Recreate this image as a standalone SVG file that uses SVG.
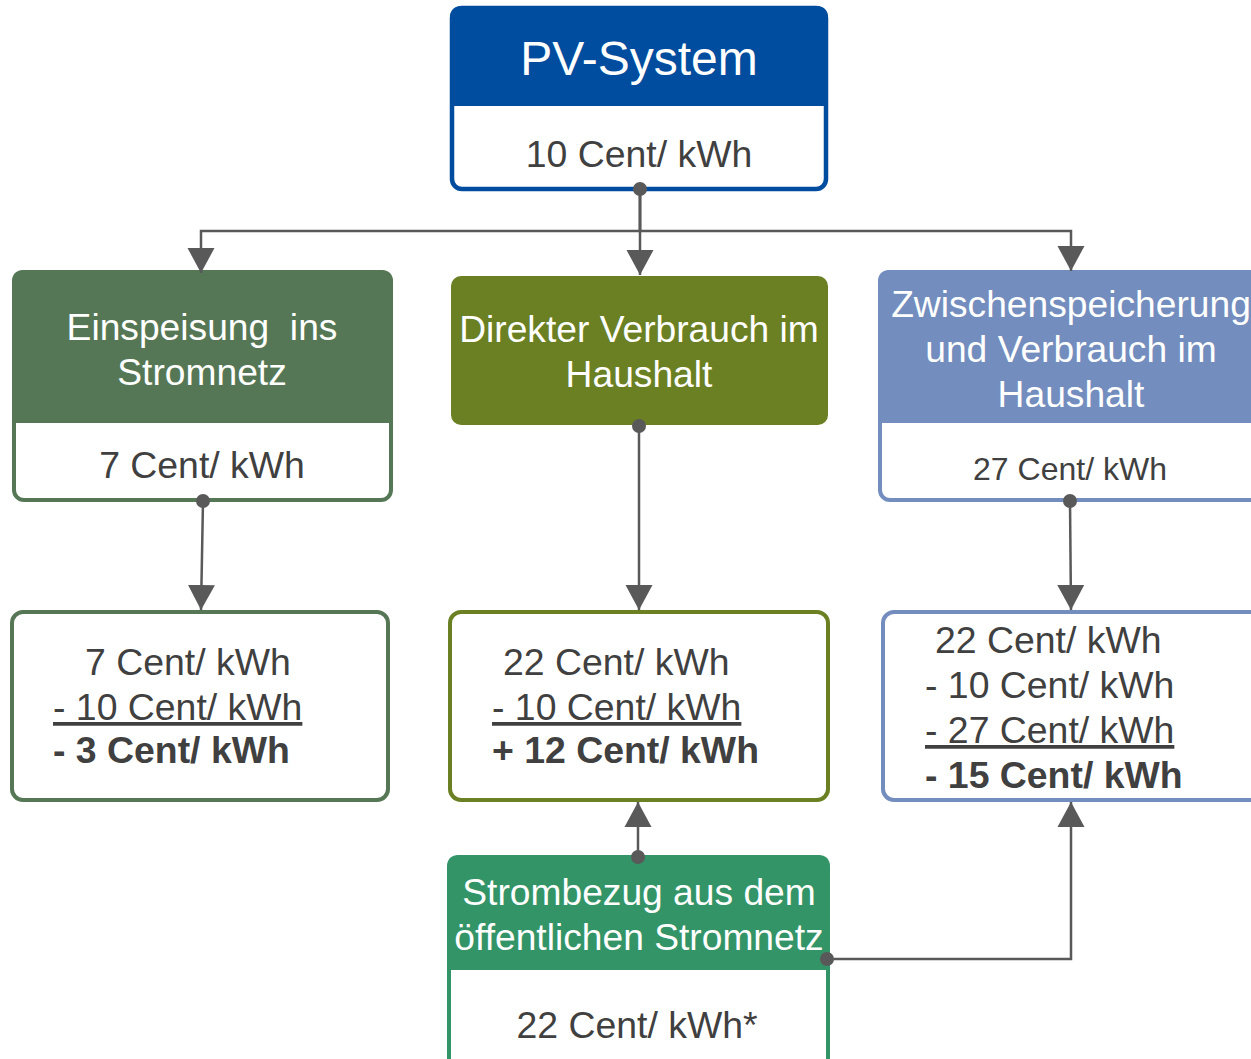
<svg xmlns="http://www.w3.org/2000/svg" width="1251" height="1059" viewBox="0 0 1251 1059">
<style>
text{font-family:"Liberation Sans",Arial,sans-serif;}
.h{fill:#fff;font-size:37.2px;text-anchor:middle;}
.b{fill:#404040;font-size:37.4px;}
.c{text-anchor:middle;}
.bold{font-weight:bold;}
.u{text-decoration:underline;}
.con{fill:none;stroke:#595959;stroke-width:2.5;marker-end:url(#arr);}
.dot{fill:#595959;}
</style>
<defs>
<marker id="arr" markerUnits="userSpaceOnUse" markerWidth="26" markerHeight="28" viewBox="0 0 26 28" refX="25" refY="14" orient="auto"><path d="M0,0.5 L25,14 L0,27.5 Z" fill="#595959"/></marker>
</defs>
<rect width="1251" height="1059" fill="#fff"/>

<g id="pv">
<rect x="452" y="8" width="374" height="181" rx="10" fill="#fff" stroke="#004C9E" stroke-width="4.5"/>
<path d="M450,106 V18 Q450,6 462,6 H816 Q828,6 828,18 V106 Z" fill="#004C9E"/>
<text class="h" x="639" y="75" style="font-size:48px">PV-System</text>
<text class="b c" x="639" y="167">10 Cent/ kWh</text>
</g>

<g id="einspeisung">
<rect x="14" y="272" width="377" height="228" rx="10" fill="#fff" stroke="#557755" stroke-width="4"/>
<path d="M12,423 V282 Q12,270 24,270 H381 Q393,270 393,282 V423 Z" fill="#557755"/>
<text class="h" x="202" y="340" xml:space="preserve">Einspeisung  ins</text>
<text class="h" x="202" y="385">Stromnetz</text>
<text class="b c" x="202" y="478">7 Cent/ kWh</text>
</g>

<g id="direkt">
<rect x="451" y="276" width="377" height="149" rx="10" fill="#6B8023"/>
<text class="h" x="639" y="342">Direkter Verbrauch im</text>
<text class="h" x="639" y="387">Haushalt</text>
</g>

<g id="zwischen">
<rect x="880" y="272" width="382" height="228" rx="10" fill="#fff" stroke="#728DBE" stroke-width="4"/>
<path d="M878,423 V282 Q878,270 890,270 H1252 Q1264,270 1264,282 V423 Z" fill="#728DBE"/>
<text class="h" x="1071" y="317">Zwischenspeicherung</text>
<text class="h" x="1071" y="362">und Verbrauch im</text>
<text class="h" x="1071" y="407">Haushalt</text>
<text class="b c" x="1070" y="480" style="font-size:32px">27 Cent/ kWh</text>
</g>

<g id="ergebnis-einspeisung">
<rect x="12" y="612" width="376" height="188" rx="11" fill="#fff" stroke="#557755" stroke-width="4"/>
<text class="b" x="85" y="675">7 Cent/ kWh</text>
<text class="b u" x="53" y="720">- 10 Cent/ kWh</text>
<text class="b bold" x="53" y="763">- 3 Cent/ kWh</text>
</g>

<g id="ergebnis-direkt">
<rect x="450" y="612" width="378" height="188" rx="11" fill="#fff" stroke="#6B8023" stroke-width="4"/>
<text class="b" x="503" y="675">22 Cent/ kWh</text>
<text class="b u" x="492" y="720">- 10 Cent/ kWh</text>
<text class="b bold" x="492" y="763">+ 12 Cent/ kWh</text>
</g>

<g id="ergebnis-zwischen">
<rect x="883" y="612" width="380" height="188" rx="11" fill="#fff" stroke="#728DBE" stroke-width="4"/>
<text class="b" x="935" y="653">22 Cent/ kWh</text>
<text class="b" x="925" y="698">- 10 Cent/ kWh</text>
<text class="b u" x="925" y="743">- 27 Cent/ kWh</text>
<text class="b bold" x="925" y="788">- 15 Cent/ kWh</text>
</g>

<g id="strombezug">
<rect x="449" y="857" width="379" height="215" rx="11" fill="#fff" stroke="#339468" stroke-width="4"/>
<path d="M447,970 V867 Q447,855 459,855 H818 Q830,855 830,867 V970 Z" fill="#339468"/>
<text class="h" x="639" y="905">Strombezug aus dem</text>
<text class="h" x="639" y="950">öffentlichen Stromnetz</text>
<text class="b c" x="637" y="1038">22 Cent/ kWh*</text>
</g>

<g id="connectors">
<path class="con" d="M640,189 V231 H201 V273"/>
<path class="con" d="M640,189 V275"/>
<path class="con" d="M640,189 V231 H1071 V271"/>
<path class="con" d="M203,501 L201,610"/>
<path class="con" d="M639,426 V610"/>
<path class="con" d="M1070,501 L1071,610"/>
<path class="con" d="M638,857 V802"/>
<path class="con" d="M827,959 H1071 V802"/>
<circle class="dot" cx="640" cy="189" r="7"/>
<circle class="dot" cx="203" cy="501" r="7"/>
<circle class="dot" cx="639" cy="426" r="7"/>
<circle class="dot" cx="1070" cy="501" r="7"/>
<circle class="dot" cx="638" cy="857" r="7"/>
<circle class="dot" cx="827" cy="959" r="7"/>
</g>
</svg>
